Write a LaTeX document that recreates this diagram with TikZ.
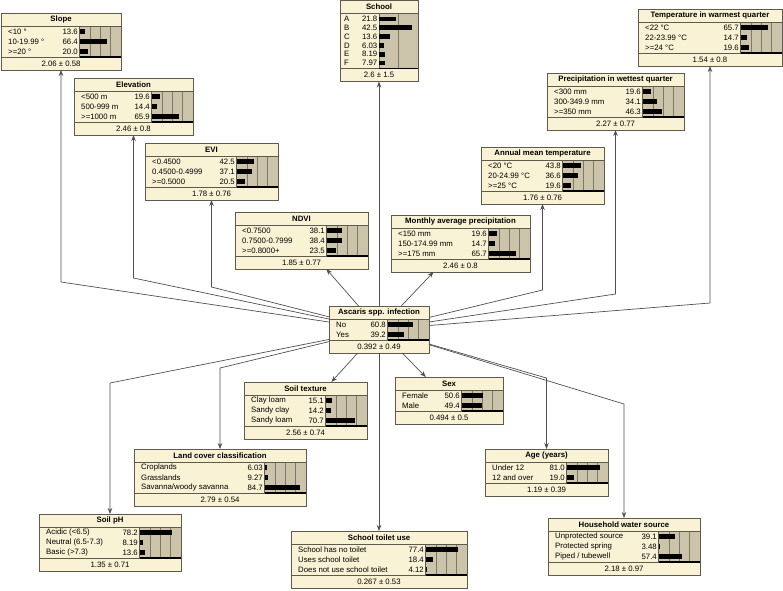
\documentclass[tikz,border=0pt]{standalone}
\usepackage{fontspec}
\setmainfont{Liberation Sans}
\usepackage{tikz}
\usetikzlibrary{arrows.meta,calc,positioning}
\definecolor{nodecream}{RGB}{250,242,212}
\definecolor{bartan}{RGB}{204,196,170}
\definecolor{gridbrown}{RGB}{128,120,100}
\definecolor{framegray}{RGB}{95,90,78}
\definecolor{linkgray}{RGB}{80,80,80}

% belief box settings (row step, bar area width, bar scale, left pad, grid lines)
\newcommand{\bnsep}{10}
\newcommand{\bnbarw}{41.5}
\newcommand{\bnscale}{1}
\newcommand{\bnpad}{7}
\newcommand{\bngrid}{0.25,0.5,0.75}

% #1 name, #2 top left, #3 width, #4 states, #5 title, #6 states/values, #7 mean
\newcommand{\bnbox}[7]{%
  \pgfmathsetmacro{\bnh}{37+(#4-1)*\bnsep}
  \node[bnframe, anchor=north west, minimum width=#3, minimum height=\bnh] (#1) at (#2) {};
  \fill[bartan] ($(#1.north east)+(-\bnbarw,13)$) rectangle ($(#1.south east)+(0,-13)$);
  \foreach \gx in \bngrid
    \draw[bngridline] ($(#1.north east)+({-\bnbarw*(1-\gx)},13)$) -- ($(#1.south east)+({-\bnbarw*(1-\gx)},-13)$);
  \draw[bnrule] ($(#1.north west)+(0,13)$) -- ($(#1.north east)+(0,13)$);
  \draw[bnrule] ($(#1.south west)+(0,-13)$) -- ($(#1.south east)+(0,-13)$);
  \draw[bnrule] ($(#1.north east)+(-\bnbarw,13)$) -- ($(#1.south east)+(-\bnbarw,-13)$);
  \draw[line width=1.2pt] ($(#1.south east)+(-\bnbarw,-13)$) -- ($(#1.south east)+(0,-13)$);
  \node[bntitle] (#1-t) at ($(#1.north)+(0,6.5)$) {#5};
  \foreach \lab/\val [count=\i] in {#6} {
    \pgfmathsetmacro{\ry}{18.5+(\i-1)*\bnsep}
    \pgfmathsetmacro{\bl}{\val*\bnbarw*\bnscale/100}
    \node[bntext, anchor=west] (#1-l\i) at ($(#1.north west)+(\bnpad,\ry)$) {\lab};
    \node[bntext, anchor=east] (#1-v\i) at ($(#1.north east)+(-\bnbarw-1.5,\ry)$) {\val};
    \fill ($(#1.north east)+(-\bnbarw,\ry-2.4)$) rectangle ++(\bl,4.8);
  }
  \node[bntext] (#1-m) at ($(#1.south)+(0,-6.5)$) {#7};
}

\begin{document}
\begin{tikzpicture}[x=1pt, y=-1pt, >={Stealth[length=6pt,width=4.5pt]},
    bnframe/.style={rectangle, draw=framegray, fill=nodecream, line width=0.8pt, inner sep=0pt, outer sep=0pt},
    bntitle/.style={font=\fontsize{7.8}{9}\selectfont\bfseries, inner sep=0pt},
    bntext/.style={font=\fontsize{7.8}{9}\selectfont, inner sep=0pt},
    bnrule/.style={draw=framegray, line width=0.6pt},
    bngridline/.style={draw=gridbrown, line width=0.5pt},
    link/.style={draw=linkgray, line width=0.7pt, ->}]
    \useasboundingbox (0,0) rectangle (783,590);

    % Target node
    \bnbox{asc}{329,306}{100}{2}{Ascaris spp. infection}{No/60.8, Yes/39.2}{0.392 ± 0.49}

    % Upper nodes
    \bnbox{slope}{1,13}{120}{3}{Slope}{{<10 °}/13.6, {10-19.99 °}/66.4, {>=20 °}/20.0}{2.06 ± 0.58}
    \bnbox{elev}{74,78}{119}{3}{Elevation}{{<500 m}/19.6, {500-999 m}/14.4, {>=1000 m}/65.9}{2.46 ± 0.8}
    \bnbox{evi}{145,143}{133}{3}{EVI}{{<0.4500}/42.5, {0.4500-0.4999}/37.1, {>=0.5000}/20.5}{1.78 ± 0.76}
    \bnbox{ndvi}{235,212}{133}{3}{NDVI}{{<0.7500}/38.1, {0.7500-0.7999}/38.4, {>=0.8000+}/23.5}{1.85 ± 0.77}
    \begin{scope}
      \renewcommand{\bnsep}{8.8}\renewcommand{\bnbarw}{39}%
      \renewcommand{\bnscale}{2}\renewcommand{\bnpad}{4}\renewcommand{\bngrid}{0.5}%
      \bnbox{school}{340,0.5}{78}{6}{School}{A/21.8, B/42.5, C/13.6, D/6.03, E/8.19, F/7.97}{2.6 ± 1.5}
    \end{scope}
    \bnbox{monthly}{391,215}{139}{3}{Monthly average precipitation}{{<150 mm}/19.6, {150-174.99 mm}/14.7, {>=175 mm}/65.7}{2.46 ± 0.8}
    \bnbox{annual}{481,147}{123}{3}{Annual mean temperature}{{<20 °C}/43.8, {20-24.99 °C}/36.6, {>=25 °C}/19.6}{1.76 ± 0.76}
    \bnbox{precip}{547,73}{137}{3}{Precipitation in wettest quarter}{{<300 mm}/19.6, {300-349.9 mm}/34.1, {>=350 mm}/46.3}{2.27 ± 0.77}
    \bnbox{temp}{638,9}{144}{3}{Temperature in warmest quarter}{{<22 °C}/65.7, {22-23.99 °C}/14.7, {>=24 °C}/19.6}{1.54 ± 0.8}

    % Lower nodes
    \bnbox{soiltex}{244,382}{123}{3}{Soil texture}{{Clay loam}/15.1, {Sandy clay}/14.2, {Sandy loam}/70.7}{2.56 ± 0.74}
    \bnbox{sex}{395,377}{108}{2}{Sex}{Female/50.6, Male/49.4}{0.494 ± 0.5}
    \bnbox{land}{134,449}{172}{3}{Land cover classification}{Croplands/6.03, Grasslands/9.27, {Savanna/woody savanna}/84.7}{2.79 ± 0.54}
    \bnbox{soilph}{39,514}{142}{3}{Soil pH}{{Acidic (<6.5)}/78.2, {Neutral (6.5-7.3)}/8.19, {Basic (>7.3)}/13.6}{1.35 ± 0.71}
    \bnbox{toilet}{291,531}{176}{3}{School toilet use}{{School has no toilet}/77.4, {Uses school toilet}/18.4, {Does not use school toilet}/4.12}{0.267 ± 0.53}
    \bnbox{age}{485,449}{123}{2}{Age (years)}{{Under 12}/81.0, {12 and over}/19.0}{1.19 ± 0.39}
    \bnbox{water}{548,518}{152}{3}{Household water source}{{Unprotected source}/39.1, {Protected spring}/3.48, {Piped / tubewell}/57.4}{2.18 ± 0.97}

    % Bend points of the links
    \coordinate (slope-bend) at (slope.south |- 0,282);
    \coordinate (elev-bend) at (elev.south |- 0,278);
    \coordinate (evi-bend) at (evi.south |- 0,287);
    \coordinate (annual-bend) at (annual.south |- 0,290);
    \coordinate (precip-bend) at (precip.south |- 0,294);
    \coordinate (temp-bend) at (temp.south |- 0,303);
    \coordinate (land-bend) at (land.north |- 0,368);
    \coordinate (soilph-bend) at (soilph.north |- 0,383);
    \coordinate (age-bend) at (age.north |- 0,378);
    \coordinate (water-bend) at (water.north |- 0,404);

    % Links from the infection node
    \draw[link] (asc) -- (slope-bend) -- (slope.south);
    \draw[link] (asc) -- (elev-bend) -- (elev.south);
    \draw[link] (asc) -- (evi-bend) -- (evi.south);
    \draw[link] (asc) -- (ndvi);
    \draw[link] (asc) -- (school);
    \draw[link] (asc) -- (monthly);
    \draw[link] (asc) -- (annual-bend) -- (annual.south);
    \draw[link] (asc) -- (precip-bend) -- (precip.south);
    \draw[link] (asc) -- (temp-bend) -- (temp.south);
    \draw[link] (asc) -- (land-bend) -- (land.north);
    \draw[link] (asc) -- (soilph-bend) -- (soilph.north);
    \draw[link] (asc) -- (soiltex);
    \draw[link] (asc) -- (sex);
    \draw[link] (asc) -- (toilet);
    \draw[link] (asc) -- (age-bend) -- (age.north);
    \draw[link] (asc) -- (water-bend) -- (water.north);
\end{tikzpicture}
\end{document}
